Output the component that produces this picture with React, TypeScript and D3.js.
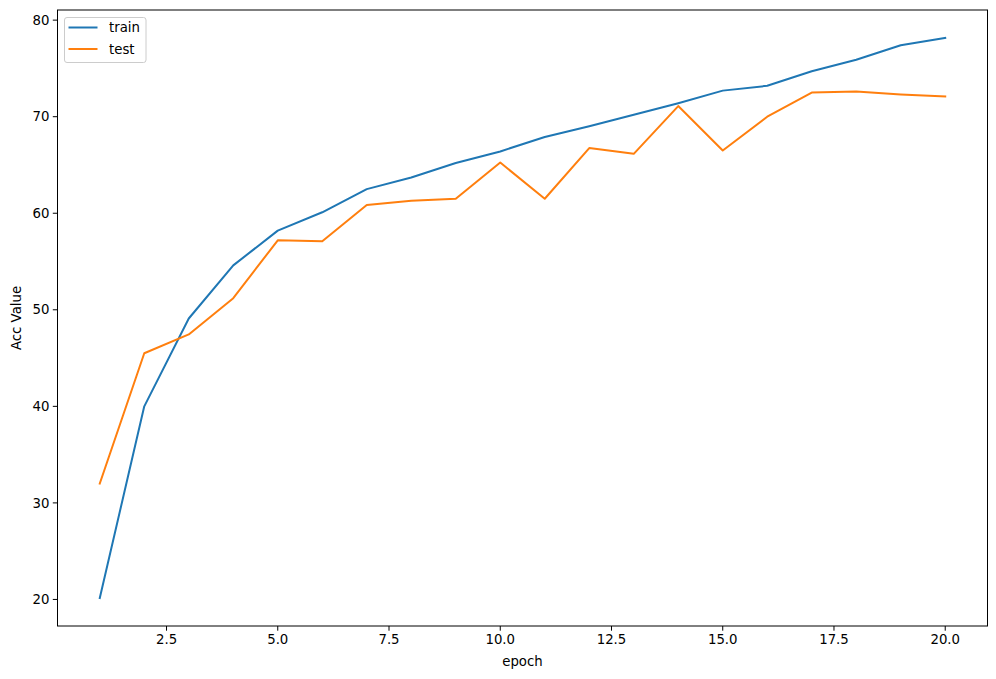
import React from "react";
import * as d3 from "d3";

const epochs = [1, 2, 3, 4, 5, 6, 7, 8, 9, 10, 11, 12, 13, 14, 15, 16, 17, 18, 19, 20];
const trainAcc = [20.15, 40.0, 49.1, 54.6, 58.2, 60.1, 62.5, 63.7, 65.2, 66.4, 67.9, 69.0, 70.2, 71.4, 72.7, 73.2, 74.7, 75.9, 77.4, 78.15];
const testAcc = [32.0, 45.5, 47.45, 51.2, 57.2, 57.1, 60.85, 61.3, 61.5, 65.25, 61.5, 66.75, 66.15, 71.1, 66.5, 70.0, 72.5, 72.6, 72.3, 72.1];
const xTicks = [2.5, 5.0, 7.5, 10.0, 12.5, 15.0, 17.5, 20.0];
const yTicks = [20, 30, 40, 50, 60, 70, 80];
const seriesNames = ["train", "test"];
const seriesColors = ["#1f77b4", "#ff7f0e"];

export default function App() {
  const W = 996, H = 679;
  const L = 57.5, R = 987.5, T = 10, B = 626;
  const all = [...trainAcc, ...testAcc];
  const ymin = d3.min(all)!, ymax = d3.max(all)!;
  const yr = ymax - ymin;
  const xmin = d3.min(epochs)!, xmax = d3.max(epochs)!;
  const xr = xmax - xmin;
  const x = d3.scaleLinear().domain([xmin - 0.05 * xr, xmax + 0.05 * xr]).range([L, R]);
  const y = d3.scaleLinear().domain([ymin - 0.05 * yr, ymax + 0.05 * yr]).range([B, T]);
  const line = d3.line<number>().x((_, i) => x(epochs[i])).y((d) => y(d));
  const series = [trainAcc, testAcc];
  const font = "'DejaVu Sans', sans-serif";
  return (
    <svg width={W} height={H} style={{ position: "absolute", left: 0, top: 0, background: "#fff" }} fontFamily={font}>
      <defs>
        <clipPath id="clip"><rect x={L} y={T} width={R - L} height={B - T} /></clipPath>
      </defs>
      <g clipPath="url(#clip)">
        {series.map((s, i) => (
          <path key={i} d={line(s)!} fill="none" stroke={seriesColors[i]} strokeWidth={2} strokeLinejoin="round" strokeLinecap="square" />
        ))}
      </g>
      <rect x={L} y={T} width={R - L} height={B - T} fill="none" stroke="#000" strokeWidth={1} />
      {xTicks.map((t) => (
        <g key={t} transform={`translate(${x(t)},${B})`}>
          <line y1={0} y2={4.7} stroke="#000" strokeWidth={1} />
          <text y={18} textAnchor="middle" fontSize={13.3} fill="#000">{d3.format(".1f")(t)}</text>
        </g>
      ))}
      {yTicks.map((t) => (
        <g key={t} transform={`translate(${L},${y(t)})`}>
          <line x1={0} x2={-4.7} stroke="#000" strokeWidth={1} />
          <text x={-8} dy="0.35em" textAnchor="end" fontSize={13.3} fill="#000">{t}</text>
        </g>
      ))}
      <text x={(L + R) / 2} y={666} textAnchor="middle" fontSize={13.3} fill="#000">epoch</text>
      <text transform={`translate(21,${(T + B) / 2}) rotate(-90)`} textAnchor="middle" fontSize={13.3} fill="#000">Acc Value</text>
      <g>
        <rect x={64.5} y={17.5} width={81.5} height={45} rx={2.5} fill="#fff" fillOpacity={0.8} stroke="#ccc" strokeWidth={1} />
        {seriesNames.map((n, i) => (
          <g key={n} transform={`translate(0,${27.5 + i * 21.5})`}>
            <line x1={68.5} x2={97.5} stroke={seriesColors[i]} strokeWidth={2} />
            <text x={109} dy="0.35em" fontSize={13.3} fill="#000">{n}</text>
          </g>
        ))}
      </g>
    </svg>
  );
}
